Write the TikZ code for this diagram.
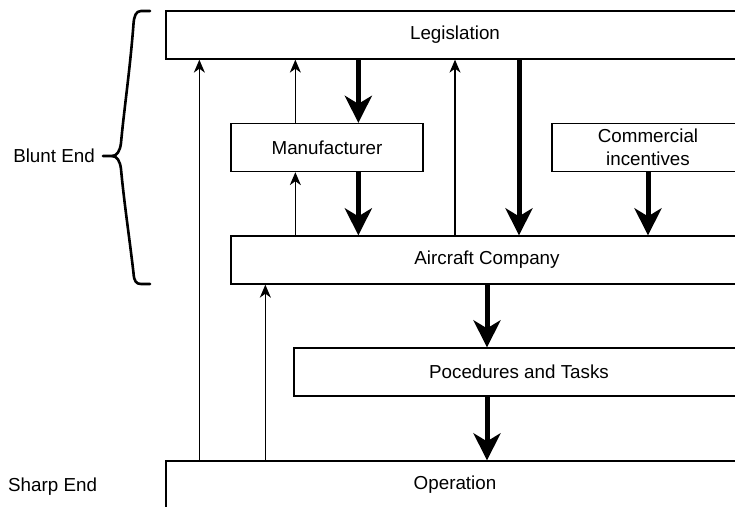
\documentclass[tikz,border=0pt]{standalone}
\usepackage{fontspec}
\setmainfont{Liberation Sans}
\usetikzlibrary{arrows.meta,calc}

\tikzset{
  lbl/.style={font=\fontsize{18.8}{23}\selectfont},
  box/.style={lbl, draw, line width=1.3pt, minimum height=48pt, inner sep=0pt, align=center},
  feedback/.style={line width=1.3pt, -{Stealth[length=13pt,width=11pt,inset=4pt]}},
  flow/.style={line width=5pt, -{Stealth[length=27pt,width=27pt,inset=8pt]}},
  curly/.style={line width=2.6pt, line cap=round, line join=round}
}

\begin{document}
\begin{tikzpicture}[x=1pt,y=-1pt]
    \useasboundingbox (0,0) rectangle (735,506);
    \clip (0,0) rectangle (735,506);
    % boxes
    \node[box, minimum width=578pt] (leg) at (455,35) {Legislation};
    \node[box, minimum width=192pt] (manu) at (327,147.5) {Manufacturer};
    \node[box, minimum width=192pt] (comm) at (648,147.5) {Commercial\\incentives};
    \node[box, minimum width=512pt] (air) at (487,260) {Aircraft Company};
    \node[box, minimum width=450pt] (proc) at (519,372) {Pocedures and Tasks};
    \node[box, minimum width=578pt] (op) at (455,485) {Operation};
    % feedback upwards
    \draw[feedback] ([xshift=34pt]op.north west) -- ([xshift=34pt]leg.south west);
    \draw[feedback] ([xshift=100pt]op.north west) -- ([xshift=35pt]air.south west);
    \draw[feedback] ([xshift=65pt]air.north west) -- ([xshift=65pt]manu.south west);
    \draw[feedback] ([xshift=65pt]manu.north west) -- ([xshift=130pt]leg.south west);
    \draw[feedback] (air.north -| leg.south) -- (leg.south);
    % control downwards
    \draw[flow] ([xshift=193pt]leg.south west) -- ([xshift=128pt]manu.north west);
    \draw[flow] ([xshift=128pt]manu.south west) -- ([xshift=128pt]air.north west);
    \draw[flow] (leg.south -| proc.north) -- (air.north -| proc.north);
    \draw[flow] (comm.south) -- (air.north -| comm.south);
    \draw[flow] (air.south) -- (proc.north -| air.south);
    \draw[flow] (proc.south -| air.south) -- (op.north -| air.south);
    % blunt end brace
    \coordinate (bt) at (150,11);
    \coordinate (bb) at (150,284);
    \coordinate (tip) at (103,156);
    \draw[curly] (bt) -- (141,11) .. controls (136,11) and (134,16) .. (133.5,24)
        .. controls (130,70) and (124,110) .. (121,143)
        .. controls (120,151) and (117,156) .. (112,156) -- (tip);
    \draw[curly] (112,156) .. controls (117,156) and (120,161) .. (121,169)
        .. controls (124,202) and (130,242) .. (133.5,273)
        .. controls (134,281) and (136,284) .. (141,284) -- (bb);
    \node[lbl, anchor=east, inner sep=0pt] (blunt) at (95,156) {Blunt End};
    \node[lbl, anchor=west, inner sep=0pt] (sharp) at (8,487) {Sharp End};
\end{tikzpicture}
\end{document}
